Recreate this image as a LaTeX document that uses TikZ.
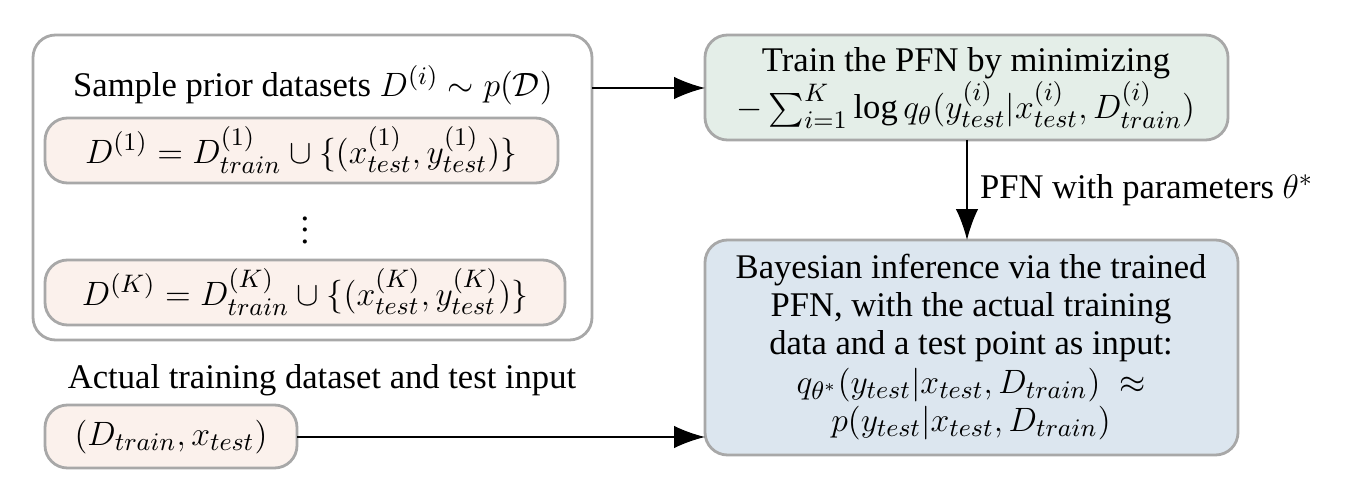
\documentclass[tikz,border=0pt]{standalone}
\usepackage{amsmath}
\usepackage{fontspec}
\setmainfont{Liberation Serif}
\usetikzlibrary{positioning,arrows.meta}
\definecolor{peach}{HTML}{FBF1EC}
\definecolor{mint}{HTML}{E4EEE8}
\definecolor{sky}{HTML}{DCE6EF}
\definecolor{edge}{HTML}{A8A8A8}

\begin{document}
\begin{tikzpicture}[x=0.0125cm,y=-0.0125cm,
  box/.style={draw=edge,line width=1pt,rounded corners=8pt,inner sep=0pt},
  flow/.style={-{Latex[length=11pt,width=8pt]},line width=0.6pt},
  font=\fontsize{12.3}{13.6}\selectfont]
  \useasboundingbox (0,0) rectangle (1354,499);
  % prior sampling
  \draw[box,fill=white] (33,35) rectangle (592,340);
  \node (sample) at (313,85) {Sample prior datasets $D^{(i)}\sim p(\mathcal{D})$};
  \draw[box,fill=peach] (45,118) rectangle (558,183);
  \node (d1) at (301,150) {$D^{(1)}=D^{(1)}_{train}\cup\{(x^{(1)}_{test},y^{(1)}_{test})\}$};
  \node[inner sep=0pt] (dots) at (305,222) {$\vdots$};
  \draw[box,fill=peach] (45,260) rectangle (565,325);
  \node (dk) at (305,292) {$D^{(K)}=D^{(K)}_{train}\cup\{(x^{(K)}_{test},y^{(K)}_{test})\}$};
  \coordinate (priorout) at (592,88);
  % actual data
  \node (actual) at (322,380) {Actual training dataset and test input};
  \draw[box,fill=peach] (45,405) rectangle (297,468);
  \node (input) at (171,437) {$(D_{train},x_{test})$};
  \coordinate (inputout) at (297,437);
  % training
  \draw[box,fill=mint] (705,35) rectangle (1228,140);
  \node[align=center] (train) at (966,88) {Train the PFN by minimizing\\
    $-\sum_{i=1}^{K}\log q_\theta(y^{(i)}_{test}|x^{(i)}_{test},D^{(i)}_{train})$};
  \coordinate (trainin) at (705,88);
  \coordinate (trainout) at (967,140);
  % inference
  \draw[box,fill=sky] (705,240) rectangle (1238,455);
  \node[align=center] (infer) at (971,347) {Bayesian inference via the trained\\
    PFN, with the actual training\\ data and a test point as input:\\
    $q_{\theta^*}(y_{test}|x_{test},D_{train})\;\approx$\\
    $p(y_{test}|x_{test},D_{train})$};
  \coordinate (inferin) at (967,240);
  \coordinate (inferleft) at (705,437);
  % connectors
  \draw[flow] (priorout) -- (trainin);
  \draw[flow] (trainout) -- node[right,xshift=1pt] {PFN with parameters $\theta^*$} (inferin);
  \draw[flow] (inputout) -- (inferleft);
\end{tikzpicture}
\end{document}
